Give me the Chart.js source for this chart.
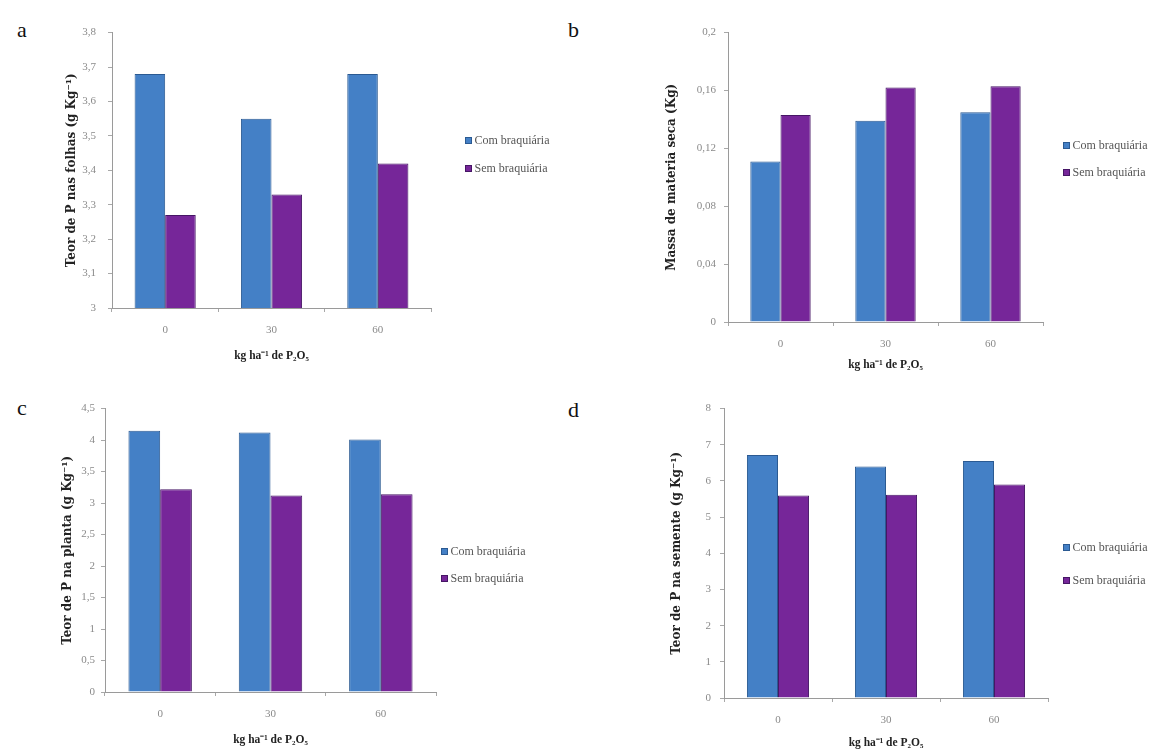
<!DOCTYPE html>
<html>
<head>
<meta charset="utf-8">
<script src="https://cdn.jsdelivr.net/npm/chart.js@4"></script>
<style>
  body { margin: 0; background: #fff; }
  #page { position: relative; width: 1166px; height: 754px; overflow: hidden; }
  .panel { position: absolute; }
  .tag { position: absolute; font: 22px "Liberation Serif", serif; color: #111; }
</style>
</head>
<body>
<div id="page">
  <div class="tag" style="left:17px; top:17px;">a</div>
  <div class="tag" style="left:568px; top:17px;">b</div>
  <div class="tag" style="left:17px; top:395px;">c</div>
  <div class="tag" style="left:568px; top:397px;">d</div>

  <div class="panel" style="left:65px; top:14px; width:496px; height:349px;"><canvas id="folhas-chart"></canvas></div>
  <div class="panel" style="left:665px; top:18px; width:498px; height:354px;"><canvas id="massa-chart"></canvas></div>
  <div class="panel" style="left:61px; top:396px; width:505px; height:351px;"><canvas id="planta-chart"></canvas></div>
  <div class="panel" style="left:670px; top:393px; width:493px; height:357px;"><canvas id="semente-chart"></canvas></div>
</div>

<script>
// Doses de fósforo e tratamentos
const doses = ['0', '30', '60'];
const seriesNames = ['Com braquiária', 'Sem braquiária'];

// Teor de P nas folhas (g kg-1)
const folhasCom = [3.68, 3.55, 3.68];
const folhasSem = [3.27, 3.33, 3.42];

// Massa de matéria seca (kg)
const massaCom = [0.111, 0.139, 0.145];
const massaSem = [0.143, 0.162, 0.163];

// Teor de P na planta (g kg-1)
const plantaCom = [4.15, 4.12, 4.01];
const plantaSem = [3.22, 3.12, 3.14];

// Teor de P na semente (g kg-1)
const sementeCom = [6.72, 6.40, 6.55];
const sementeSem = [5.60, 5.62, 5.90];

const xTitle = 'kg ha⁻¹ de P₂O₅';

const blue = '#4480c6';
const blueEdge = '#2b5a92';
const purple = '#762699';
const purpleEdge = '#461665';

// legenda desenhada ao lado do gráfico
const sideLegend = {
    id: 'sideLegend',
    afterDraw: (chart, args, opts) => {
        const ctx = chart.ctx;
        const area = chart.chartArea;
        ctx.save();
        ctx.font = '12px "Liberation Serif", serif';
        ctx.textBaseline = 'middle';
        ctx.lineWidth = 1;
        chart.data.datasets.forEach((ds, i) => {
            const x = Math.round(area.right + opts.x) + 0.5;
            const y = Math.round(area.top + opts.y[i]) + 0.5;
            ctx.fillStyle = ds.backgroundColor;
            ctx.fillRect(x, y - 3, 6, 6);
            ctx.strokeStyle = ds.borderColor;
            ctx.strokeRect(x, y - 3, 6, 6);
            ctx.fillStyle = '#555';
            ctx.fillText(ds.label, x + 9, y);
        });
        ctx.restore();
    }
};

const commaLabel = (value) => Number(value.toFixed(2)).toString().replace('.', ',');

function drawPanel(id, com, sem, yOpts, layout) {
    const data = {
        labels: doses,
        datasets: [
            {
                label: seriesNames[0],
                data: com,
                backgroundColor: blue,
                borderColor: blueEdge,
                borderWidth: 1
            },
            {
                label: seriesNames[1],
                data: sem,
                backgroundColor: purple,
                borderColor: purpleEdge,
                borderWidth: 1
            }
        ]
    };

    const options = {
        responsive: true,
        maintainAspectRatio: false,
        animation: false,
        layout: {
            padding: { top: 0, left: 0, bottom: 0, right: layout.legendSpace }
        },
        datasets: {
            bar: {
                categoryPercentage: 0.575,
                barPercentage: 1
            }
        },
        scales: {
            x: {
                grid: {
                    drawOnChartArea: false,
                    tickLength: 4,
                    color: '#a8a8a8'
                },
                border: { color: '#9a9a9a' },
                ticks: {
                    padding: 12,
                    color: '#8a8a8a',
                    font: { family: '"Liberation Serif", serif', size: 11 }
                },
                title: {
                    display: true,
                    text: xTitle,
                    color: '#222',
                    padding: 0,
                    font: { family: '"Liberation Serif", serif', size: 11.5, weight: 'bold' }
                },
                afterFit: (scale) => { scale.height = layout.xHeight; }
            },
            y: {
                min: yOpts.min,
                max: yOpts.max,
                grid: {
                    drawOnChartArea: false,
                    tickLength: 4,
                    color: '#a8a8a8'
                },
                border: { color: '#9a9a9a' },
                ticks: {
                    stepSize: yOpts.step,
                    padding: layout.tickPad,
                    color: '#8a8a8a',
                    font: { family: '"Liberation Serif", serif', size: 11 },
                    callback: (value) => commaLabel(value)
                },
                title: {
                    display: true,
                    text: yOpts.title,
                    color: '#222',
                    padding: 0,
                    font: { family: '"DejaVu Serif", serif', size: 12, weight: 'bold' }
                },
                afterFit: (scale) => { scale.width = layout.yWidth; }
            }
        },
        plugins: {
            legend: { display: false },
            tooltip: { enabled: false },
            sideLegend: { x: layout.legendX, y: layout.legendY }
        }
    };

    new Chart(document.querySelector(id), {
        type: 'bar',
        data: data,
        options: options,
        plugins: [sideLegend]
    });
}

// a - folhas
drawPanel('#folhas-chart', folhasCom, folhasSem,
    { min: 3, max: 3.8, step: 0.1, title: 'Teor de P nas folhas (g Kg⁻¹)' },
    { legendSpace: 130, yWidth: 47, xHeight: 55, tickPad: 12, legendX: 34, legendY: [107, 135] });

// b - massa seca
drawPanel('#massa-chart', massaCom, massaSem,
    { min: 0, max: 0.2, step: 0.04, title: 'Massa de materia seca (Kg)' },
    { legendSpace: 120, yWidth: 63, xHeight: 50, tickPad: 8, legendX: 20, legendY: [112, 139] });

// c - planta
drawPanel('#planta-chart', plantaCom, plantaSem,
    { min: 0, max: 4.5, step: 0.5, title: 'Teor de P na planta (g Kg⁻¹)' },
    { legendSpace: 130, yWidth: 44, xHeight: 55, tickPad: 6, legendX: 5, legendY: [142, 169] });

// d - semente
drawPanel('#semente-chart', sementeCom, sementeSem,
    { min: 0, max: 8, step: 1, title: 'Teor de P na semente (g Kg⁻¹)' },
    { legendSpace: 115, yWidth: 54, xHeight: 52, tickPad: 9, legendX: 15, legendY: [138, 171] });
</script>
</body>
</html>
